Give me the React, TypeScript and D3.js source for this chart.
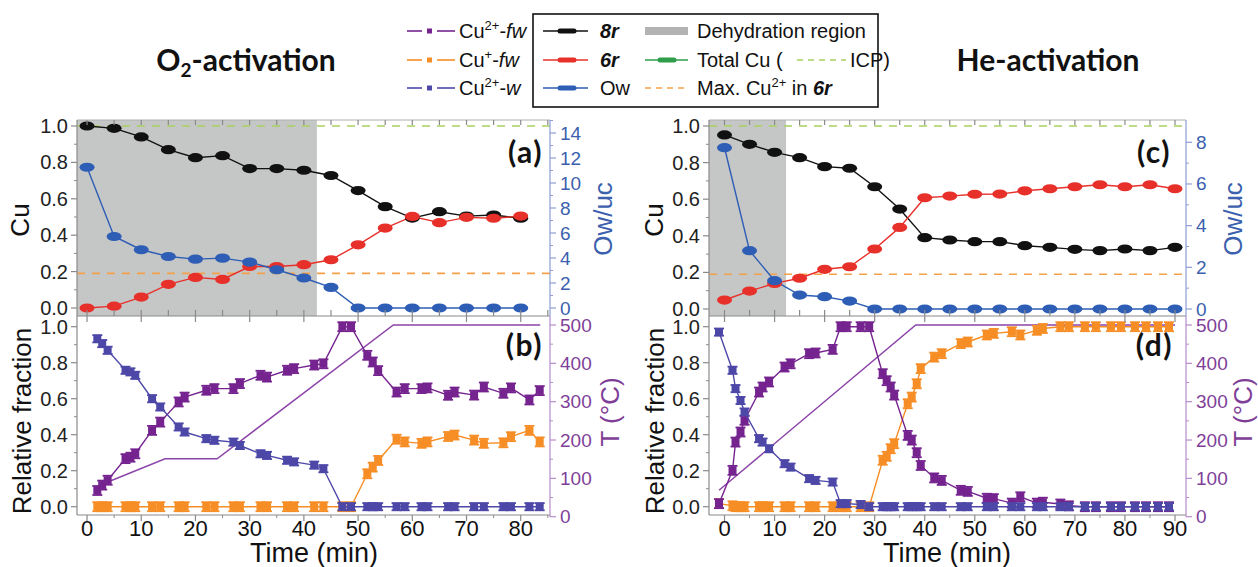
import React from "react";
import * as d3 from "d3";

const FONT = "'Liberation Sans', Arial, Helvetica, sans-serif";
const TFONT = "Lato, 'Open Sans', sans-serif";

// ---------- Panel (a): O2-activation, Cu in 8r / 6r and Ow ----------
const timeA = [0, 5, 10, 15, 20, 25, 30, 35, 40, 45, 50, 55, 60, 65, 70, 75, 80];
const a8r = [1.0, 0.987, 0.94, 0.87, 0.826, 0.837, 0.766, 0.766, 0.757, 0.728, 0.645, 0.557, 0.494, 0.529, 0.505, 0.511, 0.493];
const a6r = [0.0, 0.01, 0.06, 0.13, 0.168, 0.157, 0.228, 0.228, 0.238, 0.265, 0.347, 0.439, 0.503, 0.469, 0.498, 0.493, 0.505];
const aOw = [11.26, 5.72, 4.66, 4.12, 3.91, 3.99, 3.67, 3.06, 2.4, 1.65, 0, 0, 0, 0, 0, 0, 0];
const aDehydEnd = 42.4;

// ---------- Panel (c): He-activation ----------
const timeC = [0, 5, 10, 15, 20, 25, 30, 35, 40, 45, 50, 55, 60, 65, 70, 75, 80, 85, 90];
const c8r = [0.951, 0.9, 0.856, 0.827, 0.778, 0.769, 0.668, 0.546, 0.39, 0.377, 0.368, 0.368, 0.346, 0.337, 0.326, 0.319, 0.328, 0.319, 0.337];
const c6r = [0.049, 0.098, 0.14, 0.168, 0.217, 0.231, 0.328, 0.446, 0.608, 0.617, 0.627, 0.628, 0.646, 0.657, 0.668, 0.679, 0.668, 0.679, 0.657];
const cOw = [7.74, 2.8, 1.36, 0.67, 0.59, 0.38, 0, 0, 0, 0, 0, 0, 0, 0, 0, 0, 0, 0, 0];
const cDehydEnd = 12.3;

const totalCuICP = 1.0;
const maxCu2In6r = 0.19;

// ---------- Panel (b): relative fractions, O2-activation ----------
const timeB = [1.9, 2.8, 3.8, 7.1, 8.0, 8.9, 12.0, 13.5, 16.9, 18.0, 22.0, 23.5, 27.0, 28.2, 32.0, 33.2, 36.9, 38.2, 41.9, 43.6, 47.1, 48.7, 51.7, 52.7, 53.7, 57.1, 58.6, 61.7, 62.8, 66.6, 67.8, 71.4, 73.2, 76.8, 78.2, 81.6, 83.5];
const bCu2fw = [0.09, 0.12, 0.147, 0.267, 0.275, 0.294, 0.424, 0.47, 0.582, 0.609, 0.647, 0.656, 0.656, 0.684, 0.73, 0.72, 0.758, 0.767, 0.787, 0.794, 1.0, 1.0, 0.841, 0.804, 0.756, 0.637, 0.656, 0.656, 0.66, 0.619, 0.637, 0.62, 0.665, 0.63, 0.66, 0.593, 0.645];
const bCu1fw = [0, 0, 0, 0, 0, 0, 0, 0, 0, 0, 0, 0, 0, 0, 0, 0, 0, 0, 0, 0, 0, 0, 0.183, 0.22, 0.257, 0.375, 0.36, 0.352, 0.36, 0.39, 0.398, 0.37, 0.352, 0.355, 0.389, 0.424, 0.36];
const bCu2w = [0.933, 0.906, 0.869, 0.758, 0.749, 0.73, 0.6, 0.554, 0.443, 0.415, 0.378, 0.369, 0.359, 0.34, 0.294, 0.285, 0.258, 0.249, 0.231, 0.211, 0, 0, 0, 0, 0, 0, 0, 0, 0, 0, 0, 0, 0, 0, 0, 0, 0];
const bTempTime = [2, 14.4, 24, 56.5, 83.6];
const bTemp = [80, 151, 151, 500, 500];

// ---------- Panel (d): relative fractions, He-activation ----------
const timeD = [-1.1, 1.6, 2.2, 3.2, 4.0, 6.9, 7.6, 8.9, 12.0, 13.2, 16.9, 18.2, 21.6, 23.2, 24.4, 27.2, 28.9, 31.6, 32.4, 33.2, 33.9, 36.6, 37.4, 38.4, 39.2, 41.9, 43.4, 47.2, 48.6, 52.4, 53.8, 57.4, 59.1, 62.4, 63.6, 67.1, 68.8, 72.0, 74.2, 77.2, 79.2, 82.0, 84.2, 86.6, 88.8];
const dCu2fw = [0.017, 0.202, 0.359, 0.415, 0.48, 0.637, 0.665, 0.693, 0.776, 0.794, 0.85, 0.854, 0.874, 1.0, 1.0, 1.0, 1.0, 0.739, 0.7, 0.665, 0.62, 0.396, 0.37, 0.3, 0.229, 0.16, 0.146, 0.091, 0.085, 0.047, 0.045, 0.02, 0.055, 0.02, 0.025, 0.015, 0.005, 0, 0, 0, 0, 0, 0, 0, 0];
const dCu1fw = [0.017, 0.005, 0, 0, 0, 0, 0, 0, 0, 0, 0, 0, 0, 0, 0, 0, 0, 0.258, 0.28, 0.322, 0.35, 0.572, 0.609, 0.683, 0.767, 0.831, 0.85, 0.906, 0.915, 0.954, 0.963, 0.972, 0.954, 0.98, 0.99, 1.0, 1.0, 1.0, 1.0, 1.0, 1.0, 1.0, 1.0, 1.0, 1.0];
const dCu2w = [0.97, 0.758, 0.656, 0.59, 0.526, 0.378, 0.359, 0.322, 0.239, 0.22, 0.156, 0.146, 0.137, 0.017, 0.017, 0.012, 0, 0, 0, 0, 0, 0, 0, 0, 0, 0, 0, 0, 0, 0, 0, 0, 0, 0, 0, 0, 0, 0, 0, 0, 0, 0, 0, 0, 0];
const dTempTime = [-1.1, 38.2, 90];
const dTemp = [69, 500, 500];

// ---------- Tick labels ----------
const cuTicks = [0, 0.2, 0.4, 0.6, 0.8, 1.0];
const relTicks = [0, 0.2, 0.4, 0.6, 0.8, 1.0];
const owTicksA = [0, 2, 4, 6, 8, 10, 12, 14];
const owTicksC = [0, 2, 4, 6, 8];
const tempTicks = [0, 100, 200, 300, 400, 500];
const timeTicksA = [0, 10, 20, 30, 40, 50, 60, 70, 80];
const timeTicksC = [0, 10, 20, 30, 40, 50, 60, 70, 80, 90];

// ---------- Colours ----------
const COL8 = "#111111";
const COL6 = "#e8302a";
const COLOW = "#2d5db5";
const COLSHADE = "#c5c6c6";
const COLICP = "#a9d062";
const COLMAX = "#f5a04a";
const COLFW2 = "#75238f";
const COLFW1 = "#f68d25";
const COLW2 = "#4d48a8";
const COLT = "#8c44a8";
const AXGRAY = "#8a8a8a";
const OWAXIS = "#8d9ed4";
const OWTEXT = "#3c5fae";
const TAXIS = "#b98ccc";
const TTEXT = "#7f3f99";

const YT = 120;
const YM = 316;
const YB = 515;

function minorOf(ticks: number[], dom: [number, number]) {
  const step = ticks[1] - ticks[0];
  const out: number[] = [];
  ticks.forEach((t) => {
    const m = t + step / 2;
    if (m > dom[0] && m < dom[1]) out.push(m);
  });
  const m0 = ticks[0] - step / 2;
  if (m0 > dom[0]) out.push(m0);
  return out;
}

type TopCfg = {
  x0: number; x1: number; xDom: [number, number];
  times: number[]; s8: number[]; s6: number[]; sOw: number[];
  dehyd: number; owTicks: number[]; owMaxV: number; owTop: number; cuZero: number;
  xTicks: number[]; label: string; cuLabelX: number; owLabelX: number; labelX: number;
};

function TopPanel({ c }: { c: TopCfg }) {
  const xs = d3.scaleLinear().domain(c.xDom).range([c.x0, c.x1]);
  const cu = d3.scaleLinear().domain([0, 1]).range([c.cuZero, 126]);
  const ow = d3.scaleLinear().domain([0, c.owMaxV]).range([c.cuZero, c.owTop]);
  const ln = (vals: number[], ys: d3.ScaleLinear<number, number>) =>
    d3.line<number>().x((_, i) => xs(c.times[i])).y((d) => ys(d))(vals) || "";
  const allX = [...c.xTicks, ...minorOf(c.xTicks, c.xDom)];
  const cuMinor = minorOf(cuTicks, [-0.05, 1.04]);
  const owMinor = minorOf(c.owTicks, [-1, c.owMaxV * 1.09]);
  const marker = (vals: number[], ys: d3.ScaleLinear<number, number>, col: string) =>
    vals.map((v, i) => (
      <ellipse key={i} cx={xs(c.times[i])} cy={ys(v)} rx={7.5} ry={4.6} fill={col} />
    ));
  return (
    <g>
      <rect x={c.x0} y={YT} width={xs(c.dehyd) - c.x0} height={YM - YT} fill={COLSHADE} />
      <line x1={c.x0} x2={c.x1} y1={cu(totalCuICP)} y2={cu(totalCuICP)} stroke={COLICP} strokeWidth={1.6} strokeDasharray="8,7" />
      <line x1={c.x0} x2={c.x1} y1={cu(maxCu2In6r)} y2={cu(maxCu2In6r)} stroke={COLMAX} strokeWidth={1.6} strokeDasharray="8,7" />
      <path d={ln(c.s8, cu)} fill="none" stroke={COL8} strokeWidth={1.4} />
      <path d={ln(c.s6, cu)} fill="none" stroke={COL6} strokeWidth={1.4} />
      <path d={ln(c.sOw, ow)} fill="none" stroke={COLOW} strokeWidth={1.4} />
      {marker(c.s8, cu, COL8)}
      {marker(c.s6, cu, COL6)}
      {marker(c.sOw, ow, COLOW)}
      {/* frame */}
      <line x1={c.x0} x2={c.x1} y1={YT} y2={YT} stroke="#b0b0b0" strokeWidth={1} />
      <line x1={c.x0} x2={c.x1} y1={YM} y2={YM} stroke={AXGRAY} strokeWidth={1.2} />
      <line x1={c.x0} x2={c.x0} y1={YT} y2={YM} stroke={AXGRAY} strokeWidth={1.2} />
      <line x1={c.x1} x2={c.x1} y1={YT} y2={YM} stroke={OWAXIS} strokeWidth={1.2} />
      {allX.map((t, i) => (
        <g key={i}>
          <line x1={xs(t)} x2={xs(t)} y1={YM} y2={YM - 6} stroke={AXGRAY} strokeWidth={1.2} />
          <line x1={xs(t)} x2={xs(t)} y1={YT} y2={YT + 5} stroke={AXGRAY} strokeWidth={1.2} />
        </g>
      ))}
      {cuTicks.map((t) => (
        <g key={t}>
          <line x1={c.x0 - 6} x2={c.x0} y1={cu(t)} y2={cu(t)} stroke={AXGRAY} strokeWidth={1.2} />
          <text x={c.x0 - 9} y={cu(t)} textAnchor="end" dominantBaseline="central" fontSize={20} fontFamily={FONT} fill="#222">
            {t.toFixed(1)}
          </text>
        </g>
      ))}
      {cuMinor.map((t) => (
        <line key={t} x1={c.x0 - 3} x2={c.x0} y1={cu(t)} y2={cu(t)} stroke={AXGRAY} strokeWidth={1} />
      ))}
      {c.owTicks.map((t) => (
        <g key={t}>
          <line x1={c.x1} x2={c.x1 + 6} y1={ow(t)} y2={ow(t)} stroke={OWAXIS} strokeWidth={1.2} />
          <text x={c.x1 + 10} y={ow(t)} textAnchor="start" dominantBaseline="central" fontSize={19} fontFamily={FONT} fill={OWTEXT}>
            {t}
          </text>
        </g>
      ))}
      {owMinor.map((t) => (
        <line key={t} x1={c.x1} x2={c.x1 + 3} y1={ow(t)} y2={ow(t)} stroke={OWAXIS} strokeWidth={1} />
      ))}
      <text transform={`translate(${c.cuLabelX},220) rotate(-90)`} textAnchor="middle" dominantBaseline="central" fontSize={26} fontFamily={FONT} fill="#111">
        Cu
      </text>
      <text transform={`translate(${c.owLabelX},219) rotate(-90)`} textAnchor="middle" dominantBaseline="central" fontSize={26} fontFamily={FONT} fill={OWTEXT}>
        Ow/uc
      </text>
      <text x={c.labelX} y={163} textAnchor="end" fontSize={30} fontWeight="bold" fontFamily={TFONT} fill="#111" letterSpacing={1.5}>
        {c.label}
      </text>
    </g>
  );
}

type BotCfg = {
  x0: number; x1: number; xDom: [number, number];
  times: number[]; fw2: number[]; fw1: number[]; w2: number[];
  tT: number[]; tV: number[]; xTicks: number[]; label: string;
  relLabelX: number; tLabelX: number; labelX: number; timeLabelX: number;
};

function ErrPt({ x, y, lo, hi, col }: { x: number; y: number; lo: number; hi: number; col: string }) {
  return (
    <g>
      <line x1={x} x2={x} y1={lo} y2={hi} stroke={col} strokeWidth={1.5} />
      <line x1={x - 5} x2={x + 5} y1={lo} y2={lo} stroke={col} strokeWidth={1.8} />
      <line x1={x - 5} x2={x + 5} y1={hi} y2={hi} stroke={col} strokeWidth={1.8} />
      <rect x={x - 4} y={y - 4} width={8} height={8} fill={col} />
    </g>
  );
}

function BottomPanel({ c }: { c: BotCfg }) {
  const xs = d3.scaleLinear().domain(c.xDom).range([c.x0, c.x1]);
  const rel = d3.scaleLinear().domain([0, 1]).range([506.7, 326.7]);
  const tmp = d3.scaleLinear().domain([0, 500]).range([516.7, 325]);
  const ln = (vals: number[]) =>
    d3.line<number>().x((_, i) => xs(c.times[i])).y((d) => rel(d))(vals) || "";
  const tline = d3.line<number>().x((_, i) => xs(c.tT[i])).y((d) => tmp(d))(c.tV) || "";
  const pts = (vals: number[], col: string, err: number) =>
    vals.map((v, i) => (
      <ErrPt key={i} x={xs(c.times[i])} y={rel(v)} lo={rel(v - err)} hi={rel(v + err)} col={col} />
    ));
  const majorX = c.xTicks;
  const minorX = minorOf(c.xTicks, c.xDom);
  const relMinor = minorOf(relTicks, [-0.05, 1.05]);
  const tMinor = minorOf(tempTicks, [-1, 520]);
  return (
    <g>
      <path d={tline} fill="none" stroke={COLT} strokeWidth={1.5} />
      <path d={ln(c.fw1)} fill="none" stroke={COLFW1} strokeWidth={1.4} />
      {pts(c.fw1, COLFW1, 0.025)}
      <path d={ln(c.fw2)} fill="none" stroke={COLFW2} strokeWidth={1.4} />
      {pts(c.fw2, COLFW2, 0.025)}
      <path d={ln(c.w2)} fill="none" stroke={COLW2} strokeWidth={1.4} />
      {pts(c.w2, COLW2, 0.02)}
      {/* frame */}
      <line x1={c.x0} x2={c.x1} y1={YB} y2={YB} stroke={AXGRAY} strokeWidth={1.2} />
      <line x1={c.x0} x2={c.x0} y1={YM} y2={YB} stroke={AXGRAY} strokeWidth={1.2} />
      <line x1={c.x1} x2={c.x1} y1={YM} y2={517} stroke={TAXIS} strokeWidth={1.2} />
      {majorX.map((t) => (
        <g key={t}>
          <line x1={xs(t)} x2={xs(t)} y1={YB} y2={YB + 6} stroke={AXGRAY} strokeWidth={1.2} />
          <line x1={xs(t)} x2={xs(t)} y1={YM} y2={YM + 6} stroke={AXGRAY} strokeWidth={1.2} />
          <text x={xs(t)} y={536} textAnchor="middle" fontSize={22} fontFamily={FONT} fill="#111">
            {t}
          </text>
        </g>
      ))}
      {minorX.map((t) => (
        <line key={t} x1={xs(t)} x2={xs(t)} y1={YB} y2={YB + 3} stroke={AXGRAY} strokeWidth={1} />
      ))}
      {relTicks.map((t) => (
        <g key={t}>
          <line x1={c.x0 - 6} x2={c.x0} y1={rel(t)} y2={rel(t)} stroke={AXGRAY} strokeWidth={1.2} />
          <text x={c.x0 - 9} y={rel(t)} textAnchor="end" dominantBaseline="central" fontSize={20} fontFamily={FONT} fill="#222">
            {t.toFixed(1)}
          </text>
        </g>
      ))}
      {relMinor.map((t) => (
        <line key={t} x1={c.x0 - 3} x2={c.x0} y1={rel(t)} y2={rel(t)} stroke={AXGRAY} strokeWidth={1} />
      ))}
      {tempTicks.map((t) => (
        <g key={t}>
          <line x1={c.x1} x2={c.x1 + 6} y1={tmp(t)} y2={tmp(t)} stroke={TAXIS} strokeWidth={1.2} />
          <text x={c.x1 + 10} y={tmp(t)} textAnchor="start" dominantBaseline="central" fontSize={19} fontFamily={FONT} fill={TTEXT}>
            {t}
          </text>
        </g>
      ))}
      {tMinor.map((t) => (
        <line key={t} x1={c.x1} x2={c.x1 + 3} y1={tmp(t)} y2={tmp(t)} stroke={TAXIS} strokeWidth={1} />
      ))}
      <text transform={`translate(${c.relLabelX},421) rotate(-90)`} textAnchor="middle" dominantBaseline="central" fontSize={26} fontFamily={FONT} fill="#111">
        Relative fraction
      </text>
      <text transform={`translate(${c.tLabelX},412) rotate(-90)`} textAnchor="middle" dominantBaseline="central" fontSize={26} fontFamily={FONT} fill={TTEXT}>
        T (°C)
      </text>
      <text x={c.timeLabelX} y={562} textAnchor="middle" fontSize={27} fontFamily={FONT} fill="#111">
        Time (min)
      </text>
      <text x={c.labelX} y={356} textAnchor="end" fontSize={30} fontWeight="bold" fontFamily={TFONT} fill="#111" letterSpacing={1.5}>
        {c.label}
      </text>
    </g>
  );
}

function Legend() {
  const rows = [38, 67, 95];
  const fs = 20;
  const col1 = [
    { col: COLFW2, sup: "2+", it: "fw" },
    { col: COLFW1, sup: "+", it: "fw" },
    { col: COLW2, sup: "2+", it: "w" },
  ];
  const col2 = [
    { col: COL8, txt: "8r", bi: true },
    { col: COL6, txt: "6r", bi: true },
    { col: COLOW, txt: "Ow", bi: false },
  ];
  return (
    <g fontFamily={FONT} fontSize={fs} fill="#111">
      {col1.map((r, i) => {
        const y = rows[i] - 7;
        return (
          <g key={i}>
            <line x1={407} x2={422} y1={y} y2={y} stroke={r.col} strokeWidth={1.6} />
            <rect x={427} y={y - 2.5} width={5} height={5} fill={r.col} />
            <line x1={437} x2={455} y1={y} y2={y} stroke={r.col} strokeWidth={1.6} />
            <text x={459} y={rows[i]}>
              Cu
              <tspan dy={-8} fontSize={13}>{r.sup}</tspan>
              <tspan dy={8}>-</tspan>
              <tspan fontStyle="italic">{r.it}</tspan>
            </text>
          </g>
        );
      })}
      <rect x={533} y={14} width={345} height={93} fill="none" stroke="#111" strokeWidth={1.6} />
      {col2.map((r, i) => {
        const y = rows[i] - 7;
        return (
          <g key={i}>
            <line x1={543} x2={588} y1={y} y2={y} stroke={r.col} strokeWidth={1.5} />
            <line x1={560} x2={574} y1={y} y2={y} stroke={r.col} strokeWidth={5} strokeLinecap="round" />
            <text x={600} y={rows[i]} fontWeight={r.bi ? "bold" : "normal"} fontStyle={r.bi ? "italic" : "normal"}>
              {r.txt}
            </text>
          </g>
        );
      })}
      <line x1={645} x2={688} y1={rows[0] - 7} y2={rows[0] - 7} stroke="#b3b3b3" strokeWidth={8} />
      <text x={697} y={rows[0]}>Dehydration region</text>
      <line x1={645} x2={688} y1={rows[1] - 7} y2={rows[1] - 7} stroke="#2e9e4a" strokeWidth={1.5} />
      <line x1={660} x2={674} y1={rows[1] - 7} y2={rows[1] - 7} stroke="#2e9e4a" strokeWidth={5} strokeLinecap="round" />
      <text x={697} y={rows[1]}>Total Cu (</text>
      <line x1={797} x2={846} y1={rows[1] - 7} y2={rows[1] - 7} stroke={COLICP} strokeWidth={1.5} strokeDasharray="6,5" />
      <text x={850} y={rows[1]}>ICP)</text>
      <line x1={645} x2={688} y1={rows[2] - 7} y2={rows[2] - 7} stroke={COLMAX} strokeWidth={1.5} strokeDasharray="6,5" />
      <text x={697} y={rows[2]}>
        Max. Cu
        <tspan dy={-8} fontSize={13}>2+</tspan>
        <tspan dy={8}> in  </tspan>
        <tspan fontWeight="bold" fontStyle="italic">6r</tspan>
      </text>
    </g>
  );
}

export default function App() {
  const topA: TopCfg = {
    x0: 77, x1: 550, xDom: [-1.85, 85.4], times: timeA, s8: a8r, s6: a6r, sOw: aOw,
    dehyd: aDehydEnd, owTicks: owTicksA, owMaxV: 14, owTop: 133, cuZero: 308,
    xTicks: timeTicksA, label: "(a)", cuLabelX: 20, owLabelX: 603, labelX: 543,
  };
  const topC: TopCfg = {
    x0: 709, x1: 1186, xDom: [-3.1, 92.2], times: timeC, s8: c8r, s6: c6r, sOw: cOw,
    dehyd: cDehydEnd, owTicks: owTicksC, owMaxV: 8, owTop: 142.3, cuZero: 309,
    xTicks: timeTicksC, label: "(c)", cuLabelX: 654, owLabelX: 1233, labelX: 1171,
  };
  const botB: BotCfg = {
    x0: 77, x1: 550, xDom: [-1.85, 85.4], times: timeB, fw2: bCu2fw, fw1: bCu1fw, w2: bCu2w,
    tT: bTempTime, tV: bTemp, xTicks: timeTicksA, label: "(b)",
    relLabelX: 22, tLabelX: 610, labelX: 543, timeLabelX: 314,
  };
  const botD: BotCfg = {
    x0: 709, x1: 1186, xDom: [-3.1, 92.2], times: timeD, fw2: dCu2fw, fw1: dCu1fw, w2: dCu2w,
    tT: dTempTime, tV: dTemp, xTicks: timeTicksC, label: "(d)",
    relLabelX: 655, tLabelX: 1243, labelX: 1173, timeLabelX: 947,
  };
  return (
    <svg width={1258} height={567} style={{ position: "absolute", left: 0, top: 0, background: "#fff" }}>
      <rect x={0} y={0} width={1258} height={567} fill="#fff" />
      <text x={246} y={71} textAnchor="middle" fontSize={30} fontWeight="bold" fontFamily={TFONT} fill="#111">
        O<tspan dy={6} fontSize={19}>2</tspan><tspan dy={-6}>-activation</tspan>
      </text>
      <text x={1048} y={71} textAnchor="middle" fontSize={30} fontWeight="bold" fontFamily={TFONT} fill="#111">
        He-activation
      </text>
      <Legend />
      <TopPanel c={topA} />
      <TopPanel c={topC} />
      <BottomPanel c={botB} />
      <BottomPanel c={botD} />
    </svg>
  );
}
